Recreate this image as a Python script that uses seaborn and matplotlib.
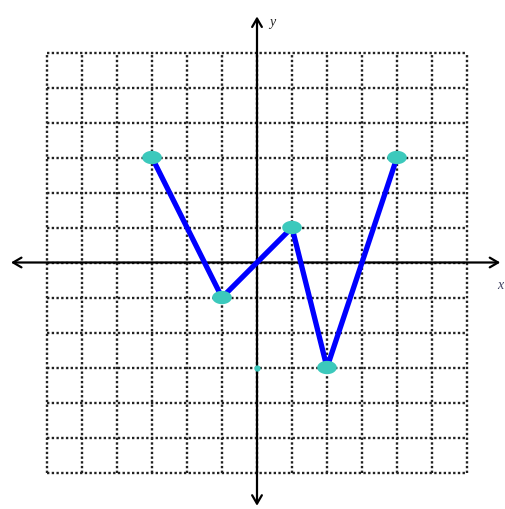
import numpy as np
import pandas as pd
import matplotlib.pyplot as plt
from matplotlib.path import Path
import seaborn as sns

# piecewise line data
x_vals = [-3, -1, 1, 2, 4]
y_vals = [3, -1, 1, -3, 3]
# stray dot on the y axis
dot_x = [0]
dot_y = [-3]
grid_ticks = list(range(-6, 7))

df = pd.DataFrame({"x": x_vals, "y": y_vals})

sns.set_style("white")

fig = plt.figure(figsize=(5.05, 5.09), dpi=100)
ax = fig.add_axes([0, 0, 1, 1])

# dotted grid
ax.vlines(grid_ticks, -6, 6, colors="#222222", linestyles=(0, (1, 1)), linewidth=1.7, zorder=1)
ax.hlines(grid_ticks, -6, 6, colors="#222222", linestyles=(0, (1, 1)), linewidth=1.7, zorder=1)

# axes with arrows
arrow = dict(arrowstyle="<->,head_length=0.6,head_width=0.35", color="black", lw=1.6)
ax.annotate("", xy=(-7.11, 0), xytext=(7.03, 0), arrowprops=arrow, zorder=2)
ax.annotate("", xy=(0, 7.11), xytext=(0, -7.03), arrowprops=arrow, zorder=2)
ax.text(0.43, 6.86, "y", fontfamily="Liberation Serif", fontstyle="italic", fontsize=10,
        ha="center", va="center")
ax.text(6.94, -0.66, "x", fontfamily="Liberation Serif", fontstyle="italic", fontsize=10,
        ha="center", va="center", color="#404060")

# blue line
sns.lineplot(data=df, x="x", y="y", sort=False, color="#0000ff", linewidth=3.8, ax=ax, zorder=3)

# elliptical teal points
t = np.linspace(0, 2 * np.pi, 40)
ellipse = Path(np.column_stack([np.cos(t), 0.68 * np.sin(t)]))
sns.scatterplot(data=df, x="x", y="y", marker=ellipse, s=200, color="#3cc9bc",
                edgecolor="none", linewidth=0, ax=ax, zorder=4)
ax.scatter(dot_x, dot_y, s=12, color="#3cc9bc", zorder=4)

ax.set_xlim(-257 / 35, 248 / 35)
ax.set_ylim(-246.5 / 35, 262.5 / 35)
ax.axis("off")

fig.savefig("out.png", dpi=100)
